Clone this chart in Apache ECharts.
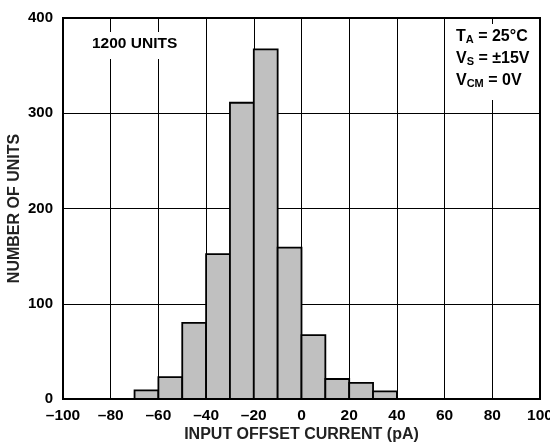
<!DOCTYPE html>
<html><head><meta charset="utf-8">
<script src="https://cdn.jsdelivr.net/npm/echarts@6/dist/echarts.min.js"></script>
<style>html,body{margin:0;padding:0;background:#fff}#c{width:550px;height:447px}</style>
</head><body><div id="c"></div>
<script>
const binStarts = [-70, -60, -50, -40, -30, -20, -10, 0, 10, 20, 30];
const binWidth = 10;
const counts = [9, 23, 80, 152, 311, 367, 159, 67, 21, 17, 8];
const xTicks = [-100, -80, -60, -40, -20, 0, 20, 40, 60, 80, 100];
const yTicks = [0, 100, 200, 300, 400];

const FONT = '"Liberation Sans", Arial, sans-serif';
const data = binStarts.map((s, i) => [s, s + binWidth, counts[i]]);

const chart = echarts.init(document.getElementById('c'), null, {renderer: 'canvas'});
chart.setOption({
  animation: false,
  backgroundColor: '#fff',
  grid: {left: 63, right: 10, top: 18, bottom: 48, containLabel: false, outerBoundsMode: 'none',
    show: true, borderColor: '#000', borderWidth: 2, backgroundColor: 'transparent'},
  xAxis: {
    type: 'value', min: xTicks[0], max: xTicks[xTicks.length-1], interval: 20,
    name: 'INPUT OFFSET CURRENT (pA)', nameLocation: 'middle', nameGap: 28, nameMoveOverlap: false,
    nameTextStyle: {fontFamily: FONT, fontWeight: 'bold', fontSize: 16, color: '#222'},
    axisLine: {show: false}, axisTick: {show: false},
    axisLabel: {fontFamily: FONT, fontWeight: 'bold', fontSize: 15.5, color: '#000', margin: 9,
      hideOverlap: false, formatter: v => String(v).replace('-', '\u2013')},
    splitLine: {show: true, lineStyle: {color: '#000', width: 1}}
  },
  yAxis: {
    type: 'value', min: yTicks[0], max: yTicks[yTicks.length-1], interval: 100,
    name: 'NUMBER OF UNITS', nameLocation: 'middle', nameGap: 40, nameMoveOverlap: false,
    nameTextStyle: {fontFamily: FONT, fontWeight: 'bold', fontSize: 16, color: '#222'},
    axisLine: {show: false}, axisTick: {show: false},
    axisLabel: {fontFamily: FONT, fontWeight: 'bold', fontSize: 15, color: '#000', margin: 10},
    splitLine: {show: true, lineStyle: {color: '#000', width: 1}}
  },
  series: [{
    type: 'custom',
    data: data,
    renderItem: function (params, api) {
      const p0 = api.coord([api.value(0), 0]);
      const p1 = api.coord([api.value(1), api.value(2)]);
      return {
        type: 'rect',
        shape: {x: p0[0], y: p1[1], width: p1[0] - p0[0], height: p0[1] - p1[1]},
        style: {fill: '#c0c0c0', stroke: '#000', lineWidth: 1.8}
      };
    },
    z: 3
  }],
  graphic: [
    {type: 'rect', left: 86, top: 32, shape: {width: 100, height: 27}, style: {fill: '#fff'}, z: 10},
    {type: 'text', left: 92, top: 35.5, style: {text: '1200 UNITS', fontFamily: FONT, fontWeight: 'bold', fontSize: 15.5, fill: '#000'}, z: 11},
    {type: 'rect', left: 450, top: 24, shape: {width: 87, height: 76}, style: {fill: '#fff'}, z: 10},
    {type: 'text', left: 456, top: 27, z: 11, style: {
      text: '{b|T}{s|A}{b| = 25°C}\n{b|V}{s|S}{b| = ±15V}\n{b|V}{s|CM}{b| = 0V}',
      rich: {
        b: {fontFamily: FONT, fontWeight: 'bold', fontSize: 16, fill: '#000', lineHeight: 22, verticalAlign: 'bottom'},
        s: {fontFamily: FONT, fontWeight: 'bold', fontSize: 11, fill: '#000', lineHeight: 22, padding: [7, 0, 0, 0], verticalAlign: 'bottom'}
      }
    }}
  ]
});
</script></body></html>
